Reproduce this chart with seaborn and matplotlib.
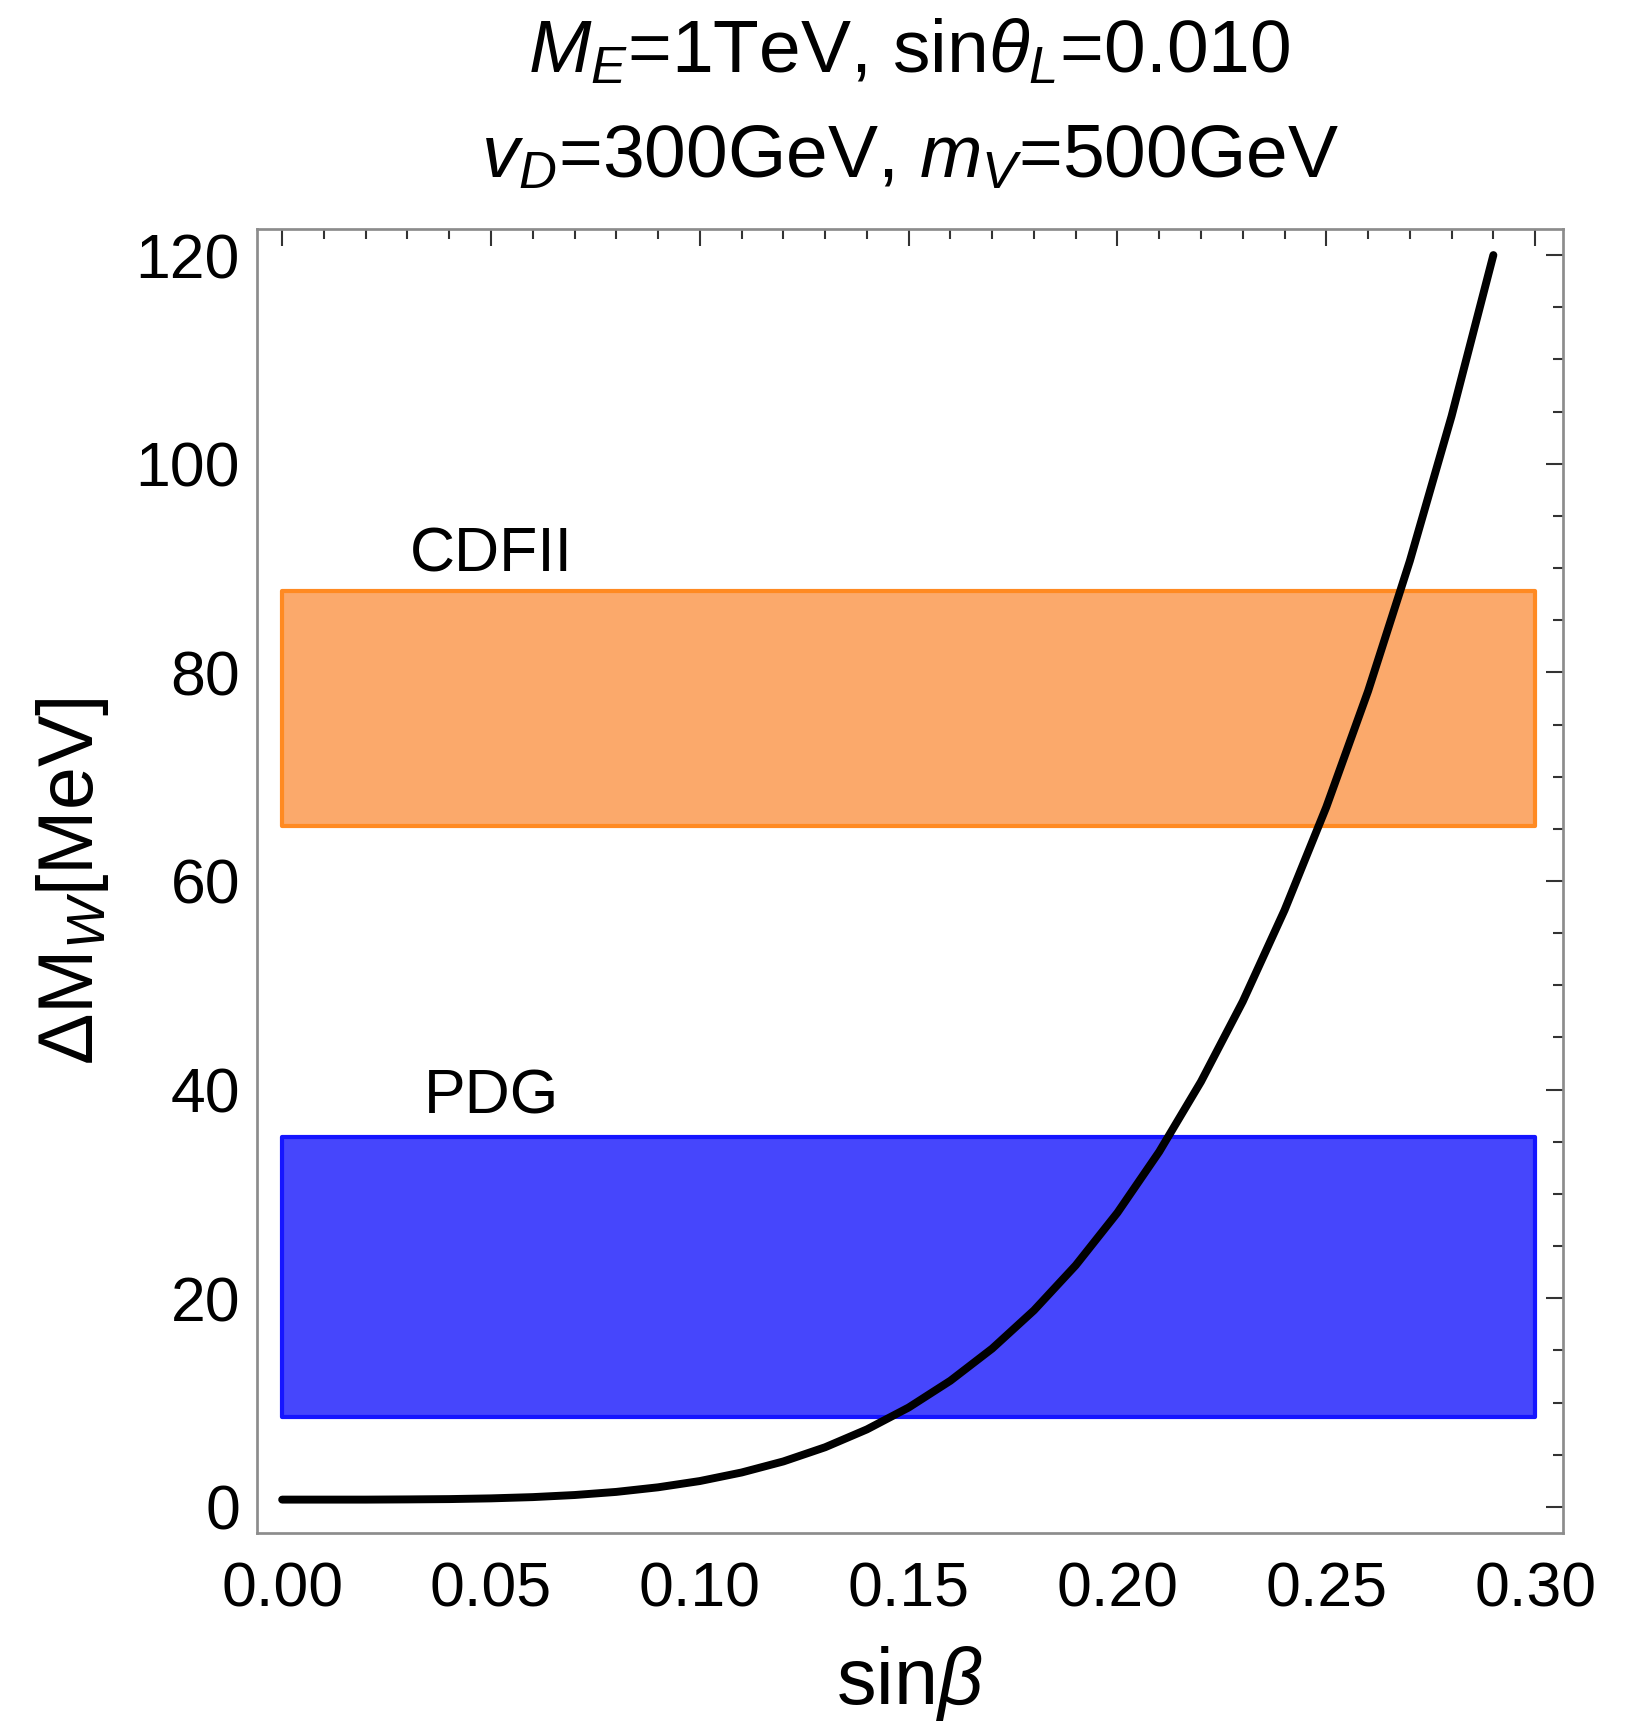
import matplotlib
matplotlib.use("Agg")
import matplotlib.pyplot as plt
import seaborn as sns
import numpy as np
import pandas as pd
from matplotlib.ticker import MultipleLocator, FormatStrFormatter

# ---- data ----
curve_x = [0.00, 0.01, 0.02, 0.03, 0.04, 0.05, 0.06, 0.07, 0.08, 0.09,
           0.10, 0.11, 0.12, 0.13, 0.14, 0.15, 0.16, 0.17, 0.18, 0.19,
           0.20, 0.21, 0.22, 0.23, 0.24, 0.25, 0.26, 0.27, 0.28, 0.29]
curve_y = [0.70, 0.70, 0.70, 0.72, 0.75, 0.82, 0.94, 1.14, 1.44, 1.88,
           2.48, 3.30, 4.36, 5.72, 7.43, 9.53, 12.10, 15.18, 18.84, 23.16,
           28.21, 34.05, 40.77, 48.45, 57.20, 67.09, 78.20, 90.68, 104.57, 120.0]

band_names = ["CDFII", "PDG"]
band_lo = [65.3, 8.6]
band_hi = [87.8, 35.5]
band_x = [0.0, 0.30]
band_label_x = [0.05, 0.05]
band_label_y = [89.7, 37.7]

title_line1 = r"$M_E$=1TeV, sin$\theta_L$=0.010"
title_line2 = r"$v_D$=300GeV, $m_V$=500GeV"
xlabel = r"sin$\beta$"
ylabel = r"$\Delta$M$_W$[MeV]"

# ---- styling ----
sns.set_style("white")
plt.rcParams['font.family'] = ['Liberation Sans', 'DejaVu Sans']
plt.rcParams['mathtext.fontset'] = 'custom'
plt.rcParams['mathtext.rm'] = 'Liberation Sans'
plt.rcParams['mathtext.it'] = 'Liberation Sans:italic'
plt.rcParams['mathtext.bf'] = 'Liberation Sans:bold'
plt.rcParams['text.color'] = 'black'
plt.rcParams['axes.labelcolor'] = 'black'
plt.rcParams['xtick.labelcolor'] = 'black'
plt.rcParams['ytick.labelcolor'] = 'black'

W, H, DPI = 1650, 1726, 150
fig = plt.figure(figsize=(W / DPI, H / DPI), dpi=DPI)
ax = fig.add_axes([256.7 / W, 1 - 1533 / H, (1562.7 - 256.7) / W, (1533 - 229) / H])

fill_cols = ["#FBA96B", "#4646FC"]
edge_cols = ["#FF8A22", "#1515FF"]
for name, lo, hi, fc, ec, lx, ly in zip(band_names, band_lo, band_hi,
                                        fill_cols, edge_cols,
                                        band_label_x, band_label_y):
    ax.fill_between(band_x, [lo, lo], [hi, hi], facecolor=fc, edgecolor=ec,
                    linewidth=2.0, zorder=1)
    ax.text(lx, ly, name, ha='center', va='baseline', fontsize=30, color='black')

df = pd.DataFrame({"x": curve_x, "y": curve_y})
sns.lineplot(data=df, x="x", y="y", ax=ax, color="black", linewidth=3.8,
             zorder=3)

ax.set_xlim(-0.0061, 0.3066)
ax.set_ylim(-2.5, 122.5)
ax.xaxis.set_major_locator(MultipleLocator(0.05))
ax.xaxis.set_minor_locator(MultipleLocator(0.01))
ax.yaxis.set_major_locator(MultipleLocator(20))
ax.yaxis.set_minor_locator(MultipleLocator(5))
ax.xaxis.set_major_formatter(FormatStrFormatter('%.2f'))

ax.tick_params(which='both', direction='in', top=True, right=True,
               color='#333333', width=1.0)
ax.tick_params(which='major', length=8.2, labelsize=30)
ax.tick_params(which='minor', length=4.8)
ax.tick_params(axis='x', which='major', pad=13)
ax.tick_params(axis='y', which='major', pad=8)

for sp in ax.spines.values():
    sp.set_color('#8c8c8c')
    sp.set_linewidth(1.3)

ax.set_xlabel(xlabel, fontsize=38, labelpad=12)
ax.set_ylabel(ylabel, fontsize=37, labelpad=12)

xc = 909.7 / W
fig.text(xc, 1 - 72 / H, title_line1, ha='center', va='baseline', fontsize=36)
fig.text(xc, 1 - 177 / H, title_line2, ha='center', va='baseline', fontsize=36)

fig.savefig("out.png", dpi=DPI)
